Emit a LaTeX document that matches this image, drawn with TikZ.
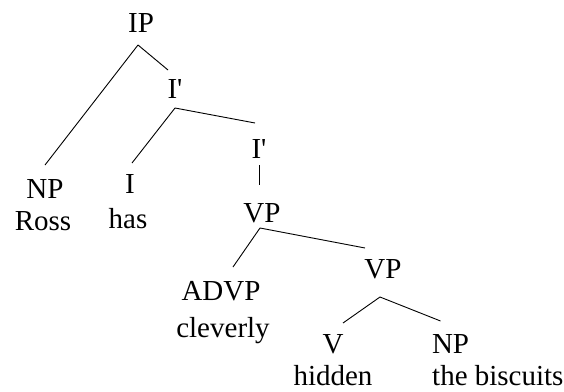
\documentclass[tikz,border=0pt]{standalone}
\usepackage{fontspec}
\setmainfont{Liberation Serif}
\begin{document}
\begin{tikzpicture}[x=1pt,y=-1pt,
  cat/.style={font=\fontsize{29}{29}\selectfont, anchor=base, inner sep=0pt,
    text height=20pt, text depth=0pt, outer xsep=0pt, outer ysep=10pt},
  word/.style={font=\fontsize{29}{29}\selectfont, anchor=base, inner sep=0pt},
  branch/.style={line width=0.9pt}]
\useasboundingbox (0,0) rectangle (564,391);
% categories
\node[cat] (IP) at (141,32) {IP};
\node[cat] (I1) at (175,98) {I\textquotesingle};
\node[cat] (I2) at (259,158) {I\textquotesingle};
\node[cat] (NP1) at (45,198) {NP};
\node[cat] (I) at (130,193) {I};
\node[cat] (VP1) at (262,222) {VP};
\node[cat] (ADVP) at (221,300) {ADVP};
\node[cat] (VP2) at (383,278) {VP};
\node[cat] (V) at (333,353) {V};
\node[cat, anchor=base west] (NP2) at (432,353) {NP};
% words
\node[word] (ross) at (43,230) {Ross};
\node[word] (has) at (128,228) {has};
\node[word] (cleverly) at (223,337) {cleverly};
\node[word] (hidden) at (333,385) {hidden};
\node[word, anchor=base west] (biscuits) at (432,385) {the biscuits};
% branches
\draw[branch] ([xshift=-3pt,yshift=-3pt]IP.south) -- ([yshift=3pt]NP1.north);
\draw[branch] ([xshift=-3pt,yshift=-3pt]IP.south) -- ([xshift=-7pt,yshift=-2pt]I1.north);
\draw[branch] (I1.south) -- ([xshift=2pt]I.north);
\draw[branch] (I1.south) -- ([xshift=-4pt,yshift=5pt]I2.north);
\draw[branch] ([yshift=3pt]I2.south) -- ([xshift=-3pt,yshift=7pt]VP1.north);
\draw[branch] ([xshift=-2pt,yshift=4pt]VP1.south) -- ([xshift=12pt,yshift=3pt]ADVP.north);
\draw[branch] ([xshift=-2pt,yshift=4pt]VP1.south) -- ([xshift=-18pt]VP2.north);
\draw[branch] ([xshift=-3pt,yshift=-9pt]VP2.south) -- ([xshift=10pt]V.north);
\draw[branch] ([xshift=-3pt,yshift=-9pt]VP2.south) -- ([xshift=-10pt,yshift=2pt]NP2.north);
\end{tikzpicture}
\end{document}
